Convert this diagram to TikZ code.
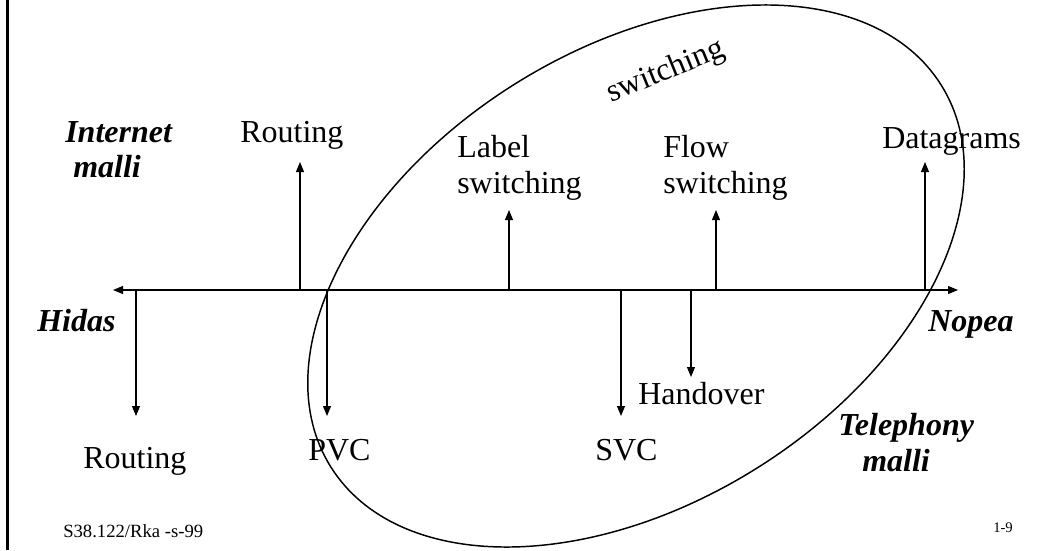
\documentclass[tikz,border=0pt]{standalone}
\usepackage{fontspec}
\setmainfont{Liberation Serif}
\usetikzlibrary{arrows.meta}
\begin{document}
\begin{tikzpicture}[x=0.75pt,y=-0.75pt,
  >={Triangle[length=7.5pt,width=6pt]},
  lbl/.style={font=\fontsize{24}{27}\selectfont, inner sep=0pt, anchor=base west},
  bi/.style={lbl, font=\fontsize{24}{27}\selectfont\bfseries\itshape},
  small/.style={font=\fontsize{14}{16}\selectfont, inner sep=0pt, anchor=base west},
  conn/.style={line width=0.8pt, ->},
  axis/.style={line width=0.8pt, <->},
  oval/.style={line width=1.1pt},
  border/.style={line width=2.3pt}]
\useasboundingbox (0,0) rectangle (1039,550);
% left border
\draw[border] (7.5,0) -- (7.5,550);
% axis
\coordinate (axL) at (113,290);
\coordinate (axR) at (958,290);
\draw[axis] (axL) -- (axR);
% ellipse
\draw[oval, rotate around={32:(636,276)}] (636,276) ellipse [x radius=360, y radius=227];
% up arrows
\coordinate (bRoutUp) at (300,290);   \coordinate (tRoutUp) at (300,162);
\coordinate (bLabel) at (509,290);    \coordinate (tLabel) at (509,210);
\coordinate (bFlow) at (716,290);     \coordinate (tFlow) at (716,210);
\coordinate (bData) at (925,290);     \coordinate (tData) at (925,162);
\draw[conn] (bRoutUp) -- (tRoutUp);
\draw[conn] (bLabel) -- (tLabel);
\draw[conn] (bFlow) -- (tFlow);
\draw[conn] (bData) -- (tData);
% down arrows
\coordinate (bRoutDn) at (136,290);   \coordinate (tRoutDn) at (136,416);
\coordinate (bPVC) at (327,290);      \coordinate (tPVC) at (327,416);
\coordinate (bSVC) at (621,290);      \coordinate (tSVC) at (621,416);
\coordinate (bHand) at (691,290);     \coordinate (tHand) at (691,377);
\draw[conn] (bRoutDn) -- (tRoutDn);
\draw[conn] (bPVC) -- (tPVC);
\draw[conn] (bSVC) -- (tSVC);
\draw[conn] (bHand) -- (tHand);
% labels
\node[bi] (internet) at (65,142) {Internet};
\node[bi] (imalli) at (73,177) {malli};
\node[lbl] (routingUp) at (240,142) {Routing};
\node[lbl] (label1) at (457,157) {Label};
\node[lbl] (label2) at (457,193) {switching};
\node[lbl] (flow1) at (663,157) {Flow};
\node[lbl] (flow2) at (663,193) {switching};
\node[lbl] (datagrams) at (882,148) {Datagrams};
\node[lbl, anchor=center, rotate=22] (sw) at (666,72) {switching};
\node[bi] (hidas) at (37,331) {Hidas};
\node[bi] (nopea) at (928,331) {Nopea};
\node[lbl] (routingDn) at (83,468) {Routing};
\node[lbl] (pvc) at (308,460) {PVC};
\node[lbl] (svc) at (595,460) {SVC};
\node[lbl] (handover) at (638,404) {Handover};
\node[bi] (teleph) at (838,435) {Telephony};
\node[bi] (tmalli) at (862,471) {malli};
\node[small] (footL) at (63,537) {S38.122/Rka -s-99};
\node[small, font=\fontsize{11}{13}\selectfont] (footR) at (993,532) {1-9};
\end{tikzpicture}
\end{document}
